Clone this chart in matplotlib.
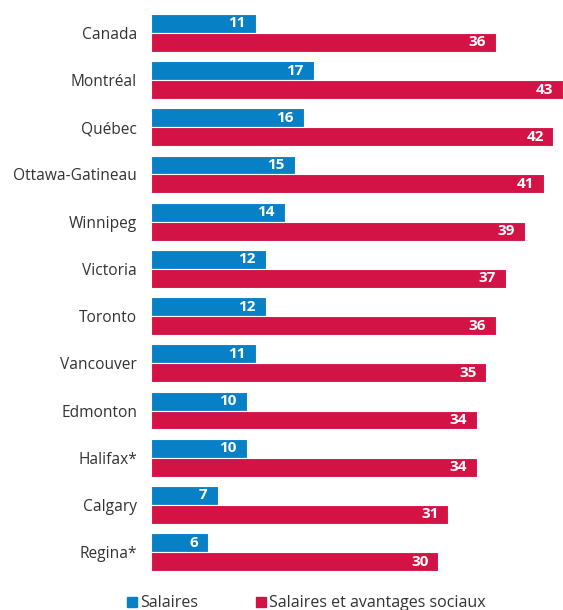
import matplotlib
matplotlib.use("Agg")
import matplotlib.pyplot as plt
from matplotlib.lines import Line2D
import numpy as np

cities = ["Canada", "Montréal", "Québec", "Ottawa-Gatineau", "Winnipeg", "Victoria",
          "Toronto", "Vancouver", "Edmonton", "Halifax*", "Calgary", "Regina*"]
salaires = [11, 17, 16, 15, 14, 12, 12, 11, 10, 10, 7, 6]
avantages = [36, 43, 42, 41, 39, 37, 36, 35, 34, 34, 31, 30]
series_names = ["Salaires", "Salaires et avantages sociaux"]

BLUE = "#0780C6"
RED = "#D31245"
TXT = "#333333"

plt.rcParams['font.family'] = ['Open Sans', 'DejaVu Sans']

fig = plt.figure(figsize=(5.63, 6.10), dpi=100)
ax = fig.add_axes([151/563, 0.0562, 1 - 151/563, 0.9848 - 0.0562])

y = np.arange(len(cities))
h = 0.4
bb = ax.barh(y - h/2, salaires, height=h, color=BLUE, edgecolor="white", linewidth=0.8)
rb = ax.barh(y + h/2, avantages, height=h, color=RED, edgecolor="white", linewidth=0.8)

for rect, v in zip(bb, salaires):
    ax.text(v - 1.1, rect.get_y() + rect.get_height()/2, str(v), ha="right", va="center",
            color="white", fontsize=11, fontweight="bold")
for rect, v in zip(rb, avantages):
    ax.text(v - 1.0, rect.get_y() + rect.get_height()/2, str(v), ha="right", va="center",
            color="white", fontsize=11, fontweight="bold")

ax.set_xlim(0, 43)
ax.set_ylim(len(cities) - 0.5 + 0.0, -0.5)
ax.set_yticks(y)
ax.set_yticklabels(cities, fontsize=11.2, color=TXT)
ax.tick_params(axis="y", length=0, pad=10)
ax.set_xticks([])
for s in ax.spines.values():
    s.set_visible(False)

handles = [Line2D([], [], marker="s", linestyle="none", markersize=7, color=BLUE),
           Line2D([], [], marker="s", linestyle="none", markersize=7, color=RED)]
leg = fig.legend(handles, series_names, loc="lower left", bbox_to_anchor=(110/563, -0.026),
                 ncol=2, frameon=False, fontsize=11.5, handletextpad=0.0,
                 columnspacing=3.4, handlelength=1.0, labelcolor=TXT)

fig.savefig("out.png", dpi=100)
